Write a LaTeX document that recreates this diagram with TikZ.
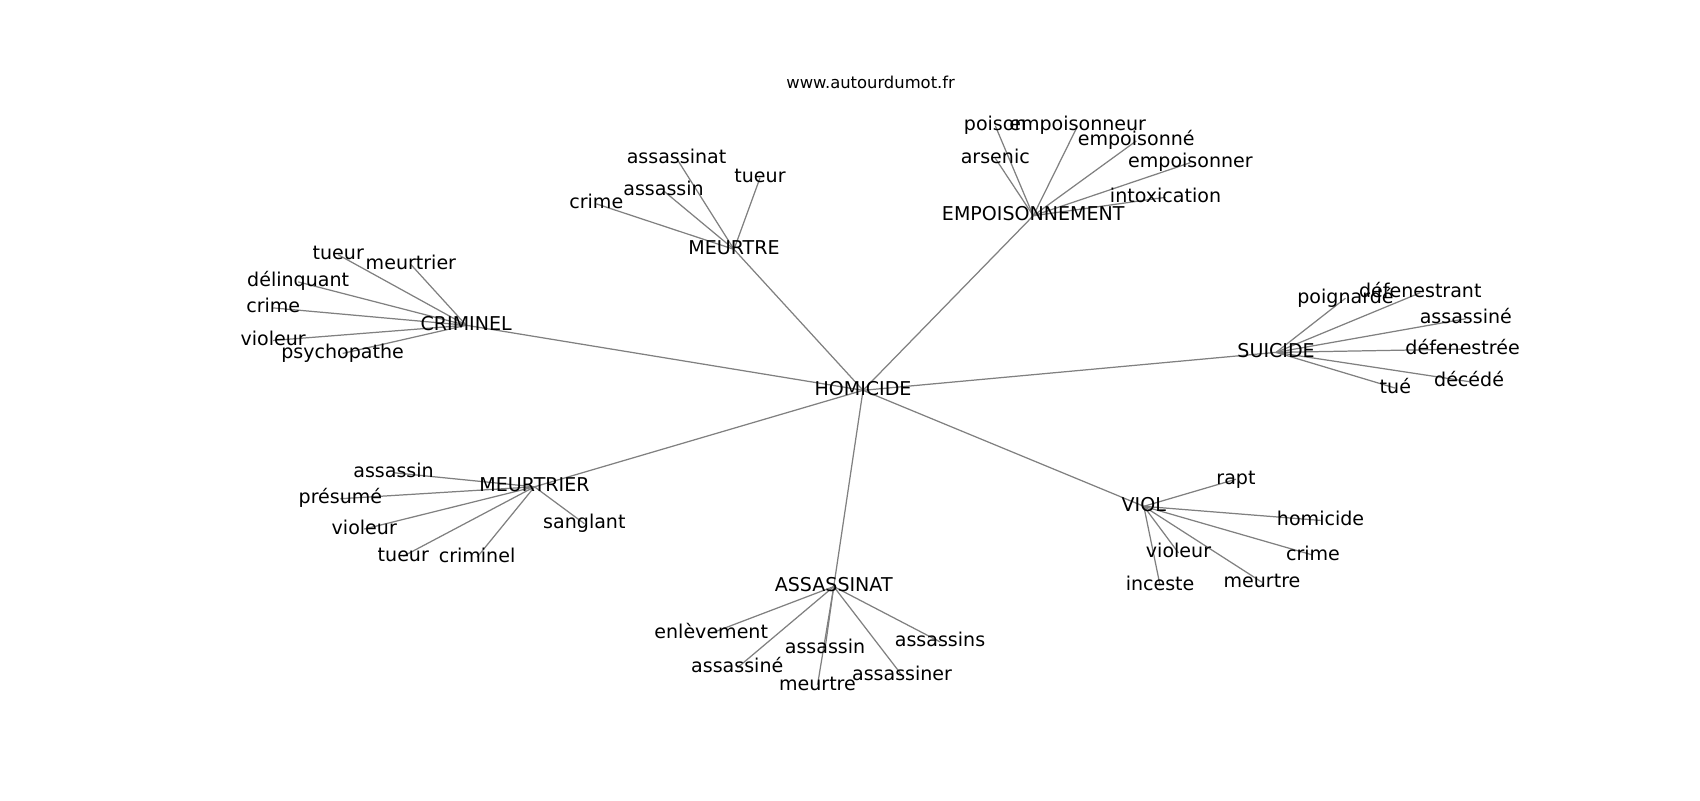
\documentclass[tikz,border=0pt]{standalone}
\usepackage{fontspec}
\setmainfont{DejaVu Sans}
\usetikzlibrary{backgrounds}

\begin{document}
\begin{tikzpicture}[x=0.02cm,y=-0.02cm,
                word/.style={inner sep=0pt,text height=7.6pt,text depth=2.4pt,
                  font=\fontsize{10}{12}\selectfont},
                link/.style={draw=black!50,line width=0.65pt}]

  \useasboundingbox (0,-2) rectangle (1568,736);

  \node[font=\fontsize{8.6}{10}\selectfont] (site) at (803,74) {www.autourdumot.fr};

  % centre
  \node[word] (hom) at (796,358) {HOMICIDE};

  % mots lies
  \node[word] (crim) at (430,298) {CRIMINEL};
  \node[word] (meur) at (677,228) {MEURTRE};
  \node[word] (emp) at (953,197) {EMPOISONNEMENT};
  \node[word] (sui) at (1177,323) {SUICIDE};
  \node[word] (viol) at (1055,465) {VIOL};
  \node[word] (ass) at (769,539) {ASSASSINAT};
  \node[word] (mtr) at (493,447) {MEURTRIER};

  % CRIMINEL
  \node[word] (crim1) at (312,233) {tueur};
  \node[word] (crim2) at (379,242) {meurtrier};
  \node[word] (crim3) at (275,258) {délinquant};
  \node[word] (crim4) at (252,282) {crime};
  \node[word] (crim5) at (252,312) {violeur};
  \node[word] (crim6) at (316,324) {psychopathe};

  % MEURTRE
  \node[word] (meur1) at (624,144) {assassinat};
  \node[word] (meur2) at (701,162) {tueur};
  \node[word] (meur3) at (612,174) {assassin};
  \node[word] (meur4) at (550,186) {crime};

  % EMPOISONNEMENT
  \node[word] (emp1) at (918,114) {poison};
  \node[word] (emp2) at (994,114) {empoisonneur};
  \node[word] (emp3) at (1048,128) {empoisonné};
  \node[word] (emp4) at (918,144) {arsenic};
  \node[word] (emp5) at (1098,148) {empoisonner};
  \node[word] (emp6) at (1075,180) {intoxication};

  % SUICIDE
  \node[word] (sui1) at (1241,273) {poignardé};
  \node[word] (sui2) at (1310,268) {défenestrant};
  \node[word] (sui3) at (1352,292) {assassiné};
  \node[word] (sui4) at (1349,320) {défenestrée};
  \node[word] (sui5) at (1355,350) {décédé};
  \node[word] (sui6) at (1287,356) {tué};

  % VIOL
  \node[word] (viol1) at (1140,440) {rapt};
  \node[word] (viol2) at (1218,478) {homicide};
  \node[word] (viol3) at (1211,510) {crime};
  \node[word] (viol4) at (1087,508) {violeur};
  \node[word] (viol5) at (1164,535) {meurtre};
  \node[word] (viol6) at (1070,538) {inceste};

  % ASSASSINAT
  \node[word] (ass1) at (656,582) {enlèvement};
  \node[word] (ass2) at (867,590) {assassins};
  \node[word] (ass3) at (761,596) {assassin};
  \node[word] (ass4) at (680,614) {assassiné};
  \node[word] (ass5) at (832,621) {assassiner};
  \node[word] (ass6) at (754,630) {meurtre};

  % MEURTRIER
  \node[word] (mtr1) at (363,434) {assassin};
  \node[word] (mtr2) at (314,458) {présumé};
  \node[word] (mtr3) at (336,486) {violeur};
  \node[word] (mtr4) at (539,481) {sanglant};
  \node[word] (mtr5) at (372,511) {tueur};
  \node[word] (mtr6) at (440,512) {criminel};

  \begin{pgfonlayer}{background}
  \path[link]
    (hom.center) edge (crim.center)
                 edge (meur.center)
                 edge (emp.center)
                 edge (sui.center)
                 edge (viol.center)
                 edge (ass.center)
                 edge (mtr.center)
    (crim.center) edge (crim1.center) edge (crim2.center) edge (crim3.center)
                  edge (crim4.center) edge (crim5.center) edge (crim6.center)
    (meur.center) edge (meur1.center) edge (meur2.center)
                  edge (meur3.center) edge (meur4.center)
    (emp.center) edge (emp1.center) edge (emp2.center) edge (emp3.center)
                 edge (emp4.center) edge (emp5.center) edge (emp6.center)
    (sui.center) edge (sui1.center) edge (sui2.center) edge (sui3.center)
                 edge (sui4.center) edge (sui5.center) edge (sui6.center)
    (viol.center) edge (viol1.center) edge (viol2.center) edge (viol3.center)
                  edge (viol4.center) edge (viol5.center) edge (viol6.center)
    (ass.center) edge (ass1.center) edge (ass2.center) edge (ass3.center)
                 edge (ass4.center) edge (ass5.center) edge (ass6.center)
    (mtr.center) edge (mtr1.center) edge (mtr2.center) edge (mtr3.center)
                 edge (mtr4.center) edge (mtr5.center) edge (mtr6.center);
  \end{pgfonlayer}
\end{tikzpicture}
\end{document}
